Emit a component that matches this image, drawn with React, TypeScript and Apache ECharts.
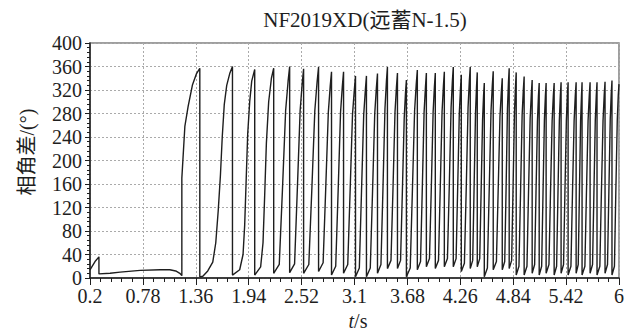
import React, { useEffect, useRef } from "react";
import * as echarts from "echarts";

// ---- data (t in seconds, phase-angle difference in degrees) ----
const chartTitle = "NF2019XD(远蓄N-1.5)";
const yAxisTitle = "相角差/(°)";
const tStart = 0.2;
const tEnd = 6;
const tStep = 0.58;
const angleMin = 0;
const angleMax = 400;
const angleStep = 40;

// before pole slipping
const startupCurve: number[][] = [
  [0.2, 14], [0.255, 28], [0.298, 36], [0.298, 7], [0.42, 8], [0.53, 10],
  [0.75, 13], [0.97, 14], [1.075, 14], [1.14, 12], [1.185, 8], [1.207, 4],
  [1.207, 170], [1.24, 258], [1.276, 292], [1.324, 329], [1.368, 348], [1.404, 357],
];

// each slip cycle: trough right after the previous drop, then the rise to the peak
const slipCycles: number[][][] = [
  [[1.404, 2], [1.437, 3], [1.491, 12], [1.546, 27], [1.579, 60], [1.606, 115], [1.63, 175], [1.65, 240], [1.672, 295], [1.699, 328], [1.732, 348], [1.762, 360]],
  [[1.762, 5], [1.841, 14], [1.878, 40], [1.896, 90], [1.913, 170], [1.929, 245], [1.951, 300], [1.973, 335], [2.006, 355]],
  [[2.006, 5], [2.071, 19], [2.097, 60], [2.115, 140], [2.134, 230], [2.159, 300], [2.189, 340], [2.214, 357]],
  [[2.214, 8], [2.275, 23], [2.31, 150], [2.345, 285], [2.372, 335], [2.389, 360]],
  [[2.389, 9], [2.443, 24], [2.473, 150], [2.504, 285], [2.527, 332], [2.542, 356]],
  [[2.542, 8], [2.599, 23], [2.632, 150], [2.665, 285], [2.69, 334], [2.706, 359]],
  [[2.706, 11], [2.756, 26], [2.784, 150], [2.813, 282], [2.834, 327], [2.848, 351]],
  [[2.848, 5], [2.894, 20], [2.921, 150], [2.947, 282], [2.967, 327], [2.98, 351]],
  [[2.98, 8], [3.026, 23], [3.052, 148], [3.078, 278], [3.098, 320], [3.111, 344]],
  [[3.111, 2], [3.153, 17], [3.177, 148], [3.201, 278], [3.219, 320], [3.231, 344]],
  [[3.231, 2], [3.273, 17], [3.298, 148], [3.322, 280], [3.34, 324], [3.352, 348]],
  [[3.352, 8], [3.39, 23], [3.412, 152], [3.434, 288], [3.45, 335], [3.461, 359]],
  [[3.461, 16], [3.5, 30], [3.522, 152], [3.544, 282], [3.56, 325], [3.571, 349]],
  [[3.571, 16], [3.605, 30], [3.625, 148], [3.645, 272], [3.659, 315], [3.669, 337]],
  [[3.669, 2], [3.711, 17], [3.735, 150], [3.759, 285], [3.777, 330], [3.789, 354]],
  [[3.789, 14], [3.824, 28], [3.843, 150], [3.863, 282], [3.878, 325], [3.888, 349]],
  [[3.888, 19], [3.922, 33], [3.942, 152], [3.962, 282], [3.976, 325], [3.986, 349]],
  [[3.986, 16], [4.021, 30], [4.04, 152], [4.06, 283], [4.075, 327], [4.085, 351]],
  [[4.085, 19], [4.119, 33], [4.139, 155], [4.159, 290], [4.173, 335], [4.183, 359]],
  [[4.183, 19], [4.214, 33], [4.231, 152], [4.249, 280], [4.262, 322], [4.271, 346]],
  [[4.271, 11], [4.305, 25], [4.325, 152], [4.345, 290], [4.359, 335], [4.369, 359]],
  [[4.369, 16], [4.396, 30], [4.411, 152], [4.427, 282], [4.438, 326], [4.446, 350]],
  [[4.446, 19], [4.473, 33], [4.488, 145], [4.504, 268], [4.515, 310], [4.523, 332]],
  [[4.523, 2], [4.557, 17], [4.577, 150], [4.597, 285], [4.611, 328], [4.621, 352]],
  [[4.621, 14], [4.656, 28], [4.675, 148], [4.695, 275], [4.71, 317], [4.72, 340]],
  [[4.72, 14], [4.747, 28], [4.762, 152], [4.777, 288], [4.788, 333], [4.796, 357]],
  [[4.796, 16], [4.823, 30], [4.838, 150], [4.854, 282], [4.865, 326], [4.873, 350]],
  [[4.873, 5], [4.903, 20], [4.921, 148], [4.938, 278], [4.951, 320], [4.96, 343]],
  [[4.96, 5], [4.991, 20], [5.008, 146], [5.026, 272], [5.039, 314], [5.048, 337]],
  [[5.048, 8], [5.075, 23], [5.09, 145], [5.106, 268], [5.117, 310], [5.125, 332]],
  [[5.125, 5], [5.152, 20], [5.167, 145], [5.182, 268], [5.193, 310], [5.201, 332]],
  [[5.201, 8], [5.232, 23], [5.249, 145], [5.267, 268], [5.28, 310], [5.289, 332]],
  [[5.289, 5], [5.316, 20], [5.331, 145], [5.346, 268], [5.357, 311], [5.365, 333]],
  [[5.365, 8], [5.392, 23], [5.407, 145], [5.423, 268], [5.434, 311], [5.442, 333]],
  [[5.442, 5], [5.473, 20], [5.49, 145], [5.508, 268], [5.521, 311], [5.53, 333]],
  [[5.53, 8], [5.553, 23], [5.566, 145], [5.579, 268], [5.589, 311], [5.595, 333]],
  [[5.595, 5], [5.626, 20], [5.643, 145], [5.661, 268], [5.674, 311], [5.683, 333]],
  [[5.683, 8], [5.71, 23], [5.725, 145], [5.74, 268], [5.751, 311], [5.759, 333]],
  [[5.759, 5], [5.79, 20], [5.807, 145], [5.825, 268], [5.838, 312], [5.847, 334]],
  [[5.847, 8], [5.874, 23], [5.889, 147], [5.904, 270], [5.915, 314], [5.923, 336]],
  [[5.923, 5], [5.95, 20], [5.965, 145], [5.981, 268], [5.992, 311], [6.0, 330]],
];

const FONT = "Liberation Serif, Times New Roman, Noto Sans CJK SC, serif";
const INK = "#1e1e1e";

export default function App() {
  const ref = useRef<HTMLDivElement>(null);

  useEffect(() => {
    if (!ref.current) return;
    const chart = echarts.init(ref.current, undefined, { renderer: "svg" });

    const points = [startupCurve, ...slipCycles]
      .flat()
      .map(([t, v]) => [+(t - tStart).toFixed(4), v]);

    const fmtT = (v: number) => String(parseFloat((v + tStart).toFixed(2)));

    chart.setOption({
      animation: false,
      backgroundColor: "#ffffff",
      textStyle: { fontFamily: FONT, color: INK },
      grid: {
        left: 90,
        right: 7,
        top: 43,
        bottom: 55,
        show: true,
        borderColor: "#808080",
        borderWidth: 1.5,
        backgroundColor: "transparent",
      },
      xAxis: {
        type: "value",
        min: 0,
        max: +(tEnd - tStart).toFixed(2),
        interval: tStep,
        axisLine: { show: true, onZero: false, lineStyle: { color: INK, width: 1.5 } },
        axisTick: { show: true, length: 7, lineStyle: { color: INK, width: 1 } },
        minorTick: { show: true, splitNumber: 5, length: 4, lineStyle: { color: INK, width: 1 } },
        axisLabel: {
          formatter: fmtT,
          color: INK,
          fontSize: 20,
          fontFamily: FONT,
          margin: 8,
          showMinLabel: true,
          showMaxLabel: true,
        },
        splitLine: { show: true, lineStyle: { color: "#aaaaaa", type: [2, 2], width: 1 } },
        minorSplitLine: { show: false },
      },
      yAxis: {
        type: "value",
        min: angleMin,
        max: angleMax,
        interval: angleStep,
        axisLine: { show: true, onZero: false, lineStyle: { color: INK, width: 1.5 } },
        axisTick: { show: true, length: 5, lineStyle: { color: INK, width: 1 } },
        minorTick: { show: true, splitNumber: 5, length: 3, lineStyle: { color: INK, width: 1 } },
        axisLabel: {
          color: INK,
          fontSize: 20,
          fontFamily: FONT,
          margin: 8,
          showMinLabel: true,
          showMaxLabel: true,
        },
        splitLine: { show: true, lineStyle: { color: "#aaaaaa", type: [2, 2], width: 1 } },
      },
      graphic: [
        {
          type: "text",
          x: 365,
          y: 20,
          style: {
            text: chartTitle,
            fill: INK,
            fontSize: 21,
            fontFamily: FONT,
            align: "center",
            verticalAlign: "middle",
          },
        },
        {
          type: "text",
          x: 27,
          y: 152,
          rotation: Math.PI / 2,
          style: {
            text: yAxisTitle,
            fill: INK,
            fontSize: 20,
            fontFamily: FONT,
            align: "center",
            verticalAlign: "middle",
          },
        },
        {
          type: "text",
          x: 358,
          y: 321,
          style: {
            text: "{i|t}/s",
            fill: INK,
            fontSize: 20,
            fontFamily: FONT,
            align: "center",
            verticalAlign: "middle",
            rich: {
              i: { fontStyle: "italic", fontSize: 20, fontFamily: FONT, fill: INK },
            },
          },
        },
      ],
      series: [
        {
          type: "line",
          data: points,
          showSymbol: false,
          symbol: "none",
          lineStyle: { color: INK, width: 1.4 },
          clip: true,
        },
      ],
    });

    return () => chart.dispose();
  }, []);

  return (
    <div
      ref={ref}
      style={{ position: "absolute", left: 0, top: 0, width: 627, height: 333, background: "#fff" }}
    />
  );
}
